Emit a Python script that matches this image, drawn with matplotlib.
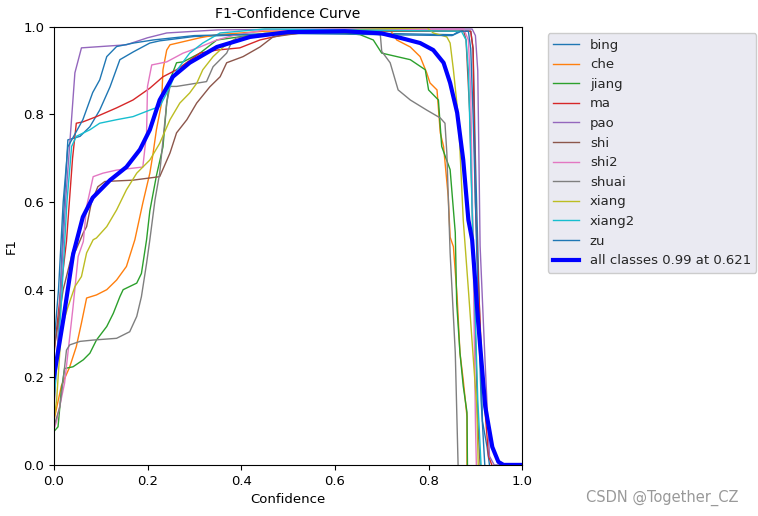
import numpy as np
import matplotlib.pyplot as plt

# F1 vs confidence
names = ['bing', 'che', 'jiang', 'ma', 'pao', 'shi', 'shi2', 'shuai', 'xiang', 'xiang2', 'zu']

bing_x = [0, 0.01, 0.02, 0.03, 0.056, 0.077, 0.098, 0.12, 0.141, 0.17, 0.205, 0.226, 0.3, 0.5, 0.7, 0.853, 0.865, 0.89, 0.895, 0.9, 0.91, 0.915, 0.925, 0.93]
bing_y = [0.15, 0.3, 0.55, 0.742, 0.75, 0.772, 0.81, 0.863, 0.925, 0.943, 0.963, 0.968, 0.978, 0.985, 0.985, 0.982, 0.99, 0.99, 0.95, 0.7, 0.3, 0.1, 0.04, 0]

che_x = [0, 0.016, 0.034, 0.048, 0.059, 0.07, 0.091, 0.113, 0.134, 0.155, 0.173, 0.19, 0.205, 0.212, 0.219, 0.23, 0.233, 0.241, 0.248, 0.276, 0.312, 0.348, 0.45, 0.7, 0.718, 0.732, 0.761, 0.782, 0.796, 0.803, 0.818, 0.825, 0.832, 0.842, 0.846, 0.853, 0.861, 0.867, 0.874, 0.882, 0.882]
che_y = [0.1, 0.18, 0.224, 0.27, 0.324, 0.381, 0.388, 0.4, 0.422, 0.453, 0.514, 0.598, 0.666, 0.712, 0.765, 0.826, 0.902, 0.947, 0.959, 0.966, 0.975, 0.982, 0.99, 0.993, 0.993, 0.97, 0.954, 0.932, 0.895, 0.872, 0.856, 0.758, 0.727, 0.612, 0.52, 0.498, 0.384, 0.256, 0.194, 0.11, 0]

jiang_x = [0, 0.009, 0.016, 0.023, 0.041, 0.063, 0.077, 0.091, 0.113, 0.127, 0.141, 0.148, 0.177, 0.187, 0.198, 0.205, 0.219, 0.233, 0.241, 0.248, 0.262, 0.276, 0.312, 0.348, 0.45, 0.6, 0.654, 0.682, 0.7, 0.761, 0.793, 0.8, 0.821, 0.828, 0.846, 0.857, 0.86, 0.867, 0.874, 0.882, 0.883]
jiang_y = [0.076, 0.087, 0.17, 0.22, 0.224, 0.24, 0.255, 0.285, 0.316, 0.346, 0.384, 0.4, 0.415, 0.437, 0.514, 0.58, 0.66, 0.726, 0.826, 0.879, 0.918, 0.92, 0.94, 0.97, 0.985, 0.988, 0.982, 0.97, 0.94, 0.925, 0.902, 0.856, 0.833, 0.727, 0.674, 0.53, 0.37, 0.256, 0.18, 0.12, 0]

ma_x = [0, 0.015, 0.027, 0.04, 0.048, 0.062, 0.091, 0.134, 0.169, 0.205, 0.233, 0.262, 0.312, 0.348, 0.397, 0.44, 0.49, 0.52, 0.6, 0.89, 0.895, 0.9, 0.905, 0.915, 0.928, 0.935]
ma_y = [0.25, 0.4, 0.51, 0.7, 0.78, 0.783, 0.795, 0.815, 0.833, 0.86, 0.886, 0.902, 0.94, 0.947, 0.952, 0.97, 0.982, 0.985, 0.992, 0.99, 0.95, 0.6, 0.45, 0.2, 0.02, 0]

pao_x = [0, 0.012, 0.025, 0.045, 0.059, 0.155, 0.2, 0.241, 0.35, 0.6, 0.893, 0.9, 0.905, 0.91, 0.92, 0.93, 0.94, 1.0]
pao_y = [0.12, 0.35, 0.6, 0.895, 0.952, 0.959, 0.975, 0.986, 0.993, 0.995, 0.995, 0.98, 0.9, 0.5, 0.25, 0.02, 0, 0]

shi_x = [0, 0.02, 0.041, 0.047, 0.063, 0.07, 0.08, 0.094, 0.109, 0.169, 0.226, 0.248, 0.262, 0.284, 0.305, 0.333, 0.355, 0.369, 0.404, 0.44, 0.468, 0.52, 0.6, 0.875, 0.88, 0.888, 0.9, 0.905, 0.91]
shi_y = [0.26, 0.4, 0.49, 0.49, 0.53, 0.544, 0.598, 0.635, 0.647, 0.65, 0.658, 0.712, 0.758, 0.788, 0.826, 0.863, 0.886, 0.918, 0.932, 0.954, 0.977, 0.985, 0.99, 0.99, 0.97, 0.8, 0.3, 0.1, 0]

shi2_x = [0, 0.006, 0.023, 0.041, 0.052, 0.063, 0.07, 0.084, 0.105, 0.134, 0.19, 0.198, 0.2, 0.209, 0.241, 0.276, 0.312, 0.348, 0.383, 0.45, 0.875, 0.885, 0.89, 0.895, 0.9, 0.902]
shi2_y = [0.08, 0.1, 0.187, 0.36, 0.476, 0.51, 0.59, 0.658, 0.666, 0.673, 0.68, 0.757, 0.864, 0.913, 0.92, 0.94, 0.954, 0.97, 0.98, 0.993, 0.995, 0.97, 0.85, 0.5, 0.1, 0]

shuai_x = [0, 0.013, 0.02, 0.027, 0.034, 0.056, 0.084, 0.134, 0.162, 0.177, 0.187, 0.198, 0.205, 0.216, 0.226, 0.241, 0.248, 0.262, 0.326, 0.34, 0.369, 0.38, 0.39, 0.45, 0.65, 0.697, 0.7, 0.718, 0.735, 0.761, 0.796, 0.825, 0.835, 0.839, 0.846, 0.857, 0.863]
shuai_y = [0.087, 0.133, 0.194, 0.262, 0.274, 0.282, 0.285, 0.289, 0.304, 0.339, 0.384, 0.46, 0.514, 0.605, 0.666, 0.826, 0.864, 0.864, 0.875, 0.909, 0.94, 0.966, 0.975, 0.985, 0.99, 0.982, 0.944, 0.918, 0.856, 0.833, 0.81, 0.792, 0.78, 0.712, 0.484, 0.256, 0]

xiang_x = [0, 0.006, 0.016, 0.03, 0.045, 0.059, 0.07, 0.084, 0.091, 0.113, 0.134, 0.155, 0.177, 0.205, 0.226, 0.248, 0.269, 0.29, 0.305, 0.318, 0.34, 0.362, 0.383, 0.419, 0.5, 0.797, 0.81, 0.839, 0.846, 0.853, 0.864, 0.874, 0.885, 0.895, 0.903, 0.906]
xiang_y = [0.1, 0.148, 0.31, 0.36, 0.407, 0.43, 0.484, 0.514, 0.518, 0.544, 0.582, 0.628, 0.666, 0.696, 0.734, 0.788, 0.826, 0.849, 0.871, 0.902, 0.932, 0.954, 0.97, 0.975, 0.99, 0.998, 0.986, 0.977, 0.963, 0.902, 0.788, 0.559, 0.4, 0.25, 0.13, 0]

xiang2_x = [0, 0.015, 0.028, 0.038, 0.048, 0.077, 0.098, 0.134, 0.169, 0.205, 0.226, 0.248, 0.262, 0.29, 0.318, 0.355, 0.45, 0.87, 0.88, 0.885, 0.895, 0.905, 0.912]
xiang2_y = [0.14, 0.35, 0.6, 0.727, 0.75, 0.765, 0.78, 0.788, 0.795, 0.81, 0.818, 0.863, 0.9, 0.94, 0.963, 0.986, 0.995, 0.99, 0.97, 0.9, 0.5, 0.15, 0]

zu_x = [0, 0.01, 0.02, 0.03, 0.062, 0.083, 0.098, 0.113, 0.134, 0.17, 0.212, 0.3, 0.5, 0.85, 0.87, 0.885, 0.89, 0.895, 0.905, 0.912, 0.92]
zu_y = [0.27, 0.4, 0.6, 0.726, 0.788, 0.85, 0.879, 0.932, 0.955, 0.963, 0.97, 0.98, 0.985, 0.98, 0.99, 0.99, 0.95, 0.8, 0.4, 0.15, 0]

all_x = [0, 0.02, 0.041, 0.062, 0.083, 0.12, 0.155, 0.184, 0.205, 0.226, 0.254, 0.29, 0.348, 0.419, 0.5, 0.621, 0.7, 0.739, 0.782, 0.81, 0.832, 0.846, 0.861, 0.874, 0.885, 0.893, 0.906, 0.921, 0.936, 0.949, 0.96, 1.0]
all_y = [0.2, 0.33, 0.48, 0.566, 0.61, 0.65, 0.68, 0.72, 0.765, 0.833, 0.886, 0.918, 0.954, 0.977, 0.988, 0.99, 0.985, 0.975, 0.963, 0.947, 0.918, 0.872, 0.804, 0.696, 0.559, 0.514, 0.324, 0.133, 0.041, 0.007, 0, 0]

series = [(bing_x, bing_y), (che_x, che_y), (jiang_x, jiang_y), (ma_x, ma_y),
          (pao_x, pao_y), (shi_x, shi_y), (shi2_x, shi2_y), (shuai_x, shuai_y),
          (xiang_x, xiang_y), (xiang2_x, xiang2_y), (zu_x, zu_y)]

fig = plt.figure(figsize=(7.58, 5.16), dpi=100)
ax = fig.add_axes([0.071, 0.099, 0.618, 0.849])

for name, (xs, ys) in zip(names, series):
    ax.plot(xs, ys, linewidth=1, label=name)
ax.plot(all_x, all_y, linewidth=3, color='blue', label='all classes 0.99 at 0.621')

ax.set_xlim(0, 1)
ax.set_ylim(0, 1)
ax.set_xlabel('Confidence', fontsize=9.5)
ax.set_ylabel('F1', fontsize=9.5)
ax.set_title('F1-Confidence Curve', fontsize=10)
ax.tick_params(labelsize=9.5)

leg = ax.legend(bbox_to_anchor=(1.04, 1), loc='upper left', fontsize=9.5,
                facecolor='#eaeaf2', edgecolor='#cccccc', framealpha=1,
                labelspacing=0.5)
for t in leg.get_texts():
    t.set_color('#262626')

fig.text(0.773, 0.027, 'CSDN @Together_CZ', fontsize=10.5, color='#999999')

fig.savefig('out.png', dpi=100)
